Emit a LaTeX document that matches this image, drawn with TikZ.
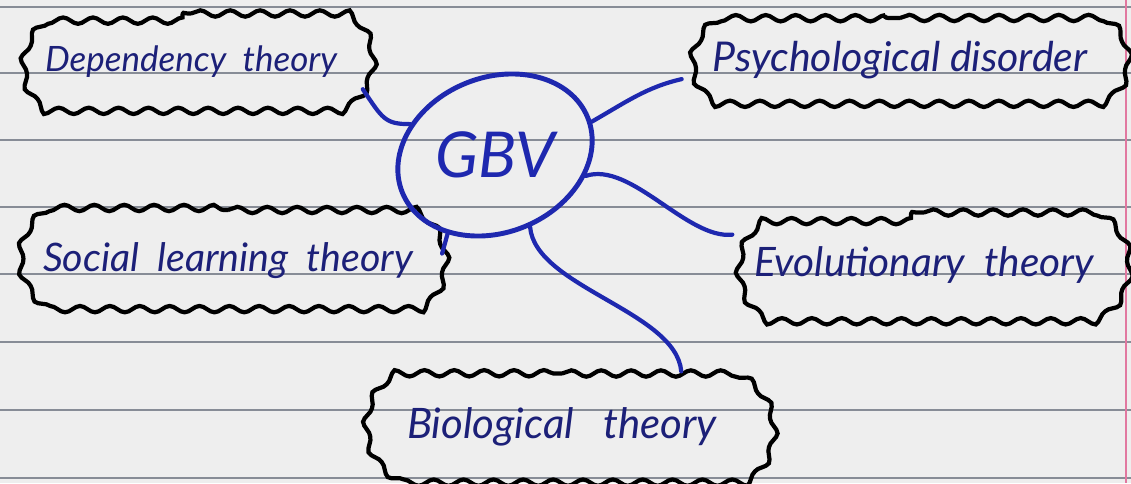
\documentclass[tikz,border=0pt]{standalone}
\usepackage{fontspec}
\setmainfont{Lato}
\usepackage{graphicx}
\usetikzlibrary{shapes.geometric,shapes.misc,decorations.pathmorphing}
\definecolor{paper}{RGB}{238,238,238}
\definecolor{rulecol}{RGB}{135,140,150}
\definecolor{ink}{RGB}{28,32,120}
\definecolor{pen}{RGB}{30,40,175}
\definecolor{margincol}{RGB}{225,120,160}
\tikzset{
  cloudbox/.style={rounded rectangle, rounded rectangle arc length=120,
    draw=black, line width=2.4pt,
    decorate, decoration={snake, segment length=17pt, amplitude=1.8pt},
    inner sep=0pt, text=ink},
  link/.style={draw=pen, line width=2.4pt, line cap=round},
  ruling/.style={draw=rulecol, line width=0.7pt}
}
\begin{document}
\begin{tikzpicture}[x=0.02cm,y=-0.02cm]
\fill[paper] (0,0) rectangle (1131,483);
\useasboundingbox (0,0) rectangle (1131,483);
\foreach \yy in {7,73,140,207,274,342,410,478} \draw[ruling] (0,\yy) -- (1131,\yy);
\draw[margincol, line width=0.6pt] (1126,0) -- (1126,483);

\node[cloudbox, minimum width=7.06cm, minimum height=1.94cm] (dep) at (191,62)
  {\resizebox{5.84cm}{!}{\itshape Dependency\ \ theory}};
\node[cloudbox, minimum width=8.8cm, minimum height=1.68cm] (psy) at (900,60)
  {\resizebox{7.5cm}{!}{\itshape Psychological disorder}};
\node[cloudbox, minimum width=8.5cm, minimum height=2.04cm] (soc) at (228,261)
  {\resizebox{7.4cm}{!}{\itshape Social\ \ learning\ \ theory}};
\node[cloudbox, minimum width=7.9cm, minimum height=2.1cm] (evo) at (924,265)
  {\resizebox{6.8cm}{!}{\itshape Evolutionary\ \ theory}};
\node[cloudbox, minimum width=8.18cm, minimum height=2.14cm] (bio) at (562,427)
  {\resizebox{6.2cm}{!}{\itshape Biological\ \ \ theory}};

\node[ellipse, draw=pen, line width=2.8pt, minimum width=4.0cm, minimum height=3.1cm,
  inner sep=0pt, rotate=22, text=pen] (gbv) at (495,155)
  {\rotatebox{-22}{\resizebox{2.4cm}{!}{\itshape GBV}}};

\draw[link] (dep.-9) .. controls +(20,30) and +(-25,0) .. (gbv.138);
\draw[link] (gbv.-3) .. controls +(35,-20) and +(-35,8) .. (psy.185);
\draw[link] (gbv.217) -- (soc.2);
\draw[link] (gbv.325) .. controls +(45,-15) and +(-45,5) .. (evo.171);
\draw[link] (gbv.274) .. controls +(5,60) and +(-5,-60) .. (bio.25);
\end{tikzpicture}
\end{document}
